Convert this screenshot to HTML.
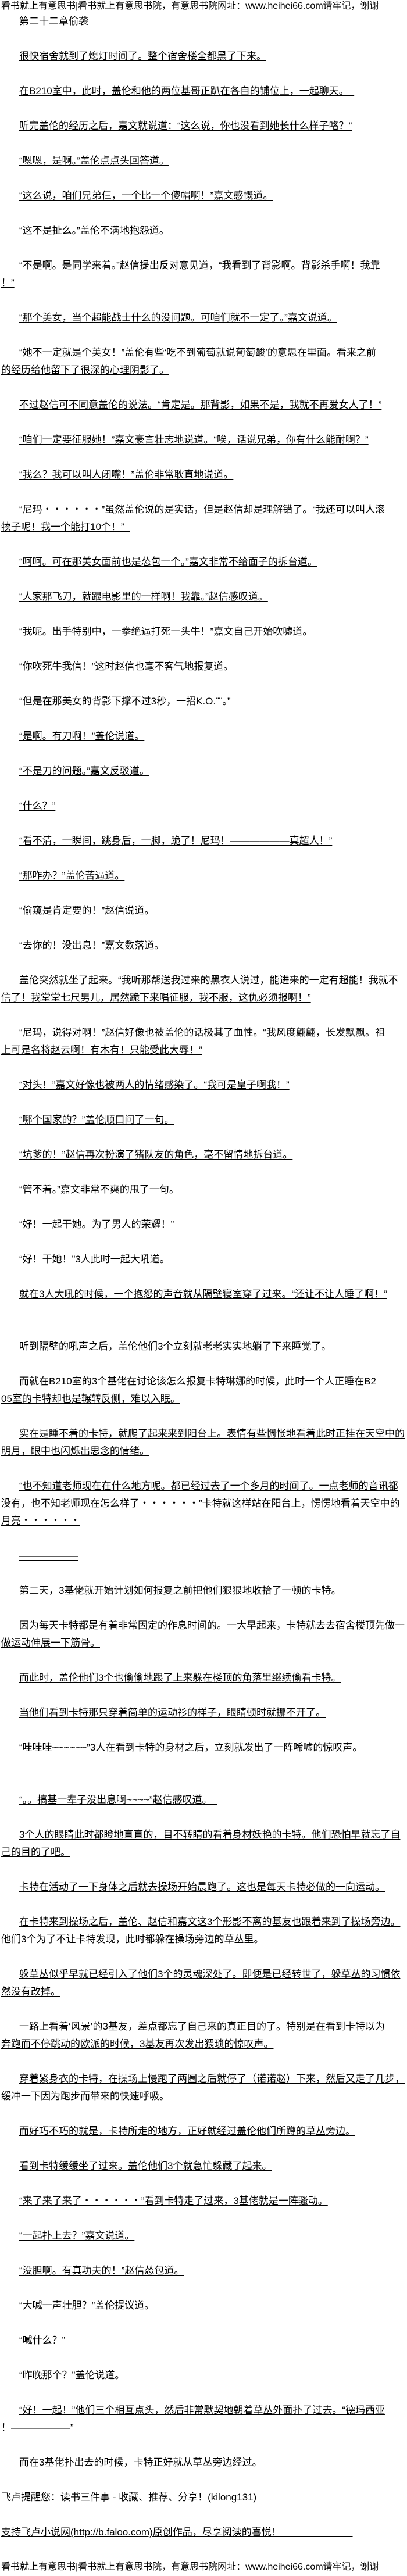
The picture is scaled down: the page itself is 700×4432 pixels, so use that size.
<!DOCTYPE html>
<html><head><meta charset="utf-8">
<style>
html,body{margin:0;padding:0;background:#fff;}
body{width:700px;height:4430px;overflow:hidden;position:relative;color:#000;
font-family:"Liberation Sans","Noto Sans CJK SC","WenQuanYi Zen Hei",sans-serif;}
.hd{position:absolute;left:2px;top:0;height:22px;line-height:22px;font-size:16px;white-space:pre;width:698px;overflow:hidden;}
.ft{position:relative;font-size:16px;white-space:pre;height:30px;line-height:30px;overflow:hidden;width:698px;padding-left:2px;}
#main{position:absolute;left:0;top:22px;width:700px;}
.p{font-size:17px;line-height:30px;white-space:pre;margin:0 0 30px 0;padding-left:2px;}
.p.dbl{margin-bottom:60px;}
.p u{text-decoration:underline;text-underline-offset:2px;}
.i{display:inline-block;width:31px;}
</style></head><body>
<div class="hd">看书就上有意思书|看书就上有意思书院，有意思书院网址：www.heihei66.com请牢记，谢谢</div>
<div id="main">
<div class="p"><span class="i"></span><u>第二十二章偷袭</u></div>
<div class="p"><span class="i"></span><u>很快宿舍就到了熄灯时间了。整个宿舍楼全都黑了下来。</u></div>
<div class="p"><span class="i"></span><u>在B210室中，此时，盖伦和他的两位基哥正趴在各自的铺位上，一起聊天。  </u></div>
<div class="p"><span class="i"></span><u>听完盖伦的经历之后，嘉文就说道：“这么说，你也没看到她长什么样子咯？”</u></div>
<div class="p"><span class="i"></span><u>“嗯嗯，是啊。”盖伦点点头回答道。</u></div>
<div class="p"><span class="i"></span><u>“这么说，咱们兄弟仨，一个比一个傻帽啊！”嘉文感慨道。</u></div>
<div class="p"><span class="i"></span><u>“这不是扯么。”盖伦不满地抱怨道。</u></div>
<div class="p"><span class="i"></span><u>“不是啊。是同学来着。”赵信提出反对意见道，“我看到了背影啊。背影杀手啊！我靠</u><br><u>！”</u></div>
<div class="p"><span class="i"></span><u>“那个美女，当个超能战士什么的没问题。可咱们就不一定了。”嘉文说道。</u></div>
<div class="p"><span class="i"></span><u>“她不一定就是个美女！”盖伦有些‘吃不到葡萄就说葡萄酸’的意思在里面。看来之前</u><br><u>的经历给他留下了很深的心理阴影了。</u></div>
<div class="p"><span class="i"></span><u>不过赵信可不同意盖伦的说法。“肯定是。那背影，如果不是，我就不再爱女人了！”</u></div>
<div class="p"><span class="i"></span><u>“咱们一定要征服她！”嘉文豪言壮志地说道。“唉，话说兄弟，你有什么能耐啊？”</u></div>
<div class="p"><span class="i"></span><u>“我么？我可以叫人闭嘴！”盖伦非常耿直地说道。</u></div>
<div class="p"><span class="i"></span><u>“尼玛・・・・・・”虽然盖伦说的是实话，但是赵信却是理解错了。“我还可以叫人滚</u><br><u>犊子呢！我一个能打10个！”  </u></div>
<div class="p"><span class="i"></span><u>“呵呵。可在那美女面前也是怂包一个。”嘉文非常不给面子的拆台道。</u></div>
<div class="p"><span class="i"></span><u>“人家那飞刀，就跟电影里的一样啊！我靠。”赵信感叹道。</u></div>
<div class="p"><span class="i"></span><u>“我呢。出手特别中，一拳绝逼打死一头牛！”嘉文自己开始吹嘘道。</u></div>
<div class="p"><span class="i"></span><u>“你吹死牛我信！”这时赵信也毫不客气地报复道。</u></div>
<div class="p"><span class="i"></span><u>“但是在那美女的背影下撑不过3秒，一招K.O.¨¨。”   </u></div>
<div class="p"><span class="i"></span><u>“是啊。有刀啊！”盖伦说道。</u></div>
<div class="p"><span class="i"></span><u>“不是刀的问题。”嘉文反驳道。</u></div>
<div class="p"><span class="i"></span><u>“什么？”</u></div>
<div class="p"><span class="i"></span><u>“看不清，一瞬间，跳身后，一脚，跪了！尼玛！——————真超人！”</u></div>
<div class="p"><span class="i"></span><u>“那咋办？”盖伦苦逼道。</u></div>
<div class="p"><span class="i"></span><u>“偷窥是肯定要的！”赵信说道。</u></div>
<div class="p"><span class="i"></span><u>“去你的！没出息！”嘉文数落道。</u></div>
<div class="p"><span class="i"></span><u>盖伦突然就坐了起来。“我听那帮送我过来的黑衣人说过，能进来的一定有超能！我就不</u><br><u>信了！我堂堂七尺男儿，居然跪下来唱征服，我不服，这仇必须报啊！”</u></div>
<div class="p"><span class="i"></span><u>“尼玛，说得对啊！”赵信好像也被盖伦的话极其了血性。“我风度翩翩，长发飘飘。祖</u><br><u>上可是名将赵云啊！有木有！只能受此大辱！”</u></div>
<div class="p"><span class="i"></span><u>“对头！”嘉文好像也被两人的情绪感染了。“我可是皇子啊我！”</u></div>
<div class="p"><span class="i"></span><u>“哪个国家的？”盖伦顺口问了一句。</u></div>
<div class="p"><span class="i"></span><u>“坑爹的！”赵信再次扮演了猪队友的角色，毫不留情地拆台道。</u></div>
<div class="p"><span class="i"></span><u>“管不着。”嘉文非常不爽的甩了一句。</u></div>
<div class="p"><span class="i"></span><u>“好！一起干她。为了男人的荣耀！”</u></div>
<div class="p"><span class="i"></span><u>“好！干她！”3人此时一起大吼道。</u></div>
<div class="p dbl"><span class="i"></span><u>就在3人大吼的时候，一个抱怨的声音就从隔壁寝室穿了过来。“还让不让人睡了啊！”</u></div>
<div class="p"><span class="i"></span><u>听到隔壁的吼声之后，盖伦他们3个立刻就老老实实地躺了下来睡觉了。</u></div>
<div class="p"><span class="i"></span><u>而就在B210室的3个基佬在讨论该怎么报复卡特琳娜的时候，此时一个人正睡在B2    </u><br><u>05室的卡特却也是辗转反侧，难以入眠。</u></div>
<div class="p"><span class="i"></span><u>实在是睡不着的卡特，就爬了起来来到阳台上。表情有些惆怅地看着此时正挂在天空中的</u><br><u>明月，眼中也闪烁出思念的情绪。</u></div>
<div class="p"><span class="i"></span><u>“也不知道老师现在在什么地方呢。都已经过去了一个多月的时间了。一点老师的音讯都</u><br><u>没有，也不知老师现在怎么样了・・・・・・”卡特就这样站在阳台上，愣愣地看着天空中的</u><br><u>月亮・・・・・・</u></div>
<div class="p"><span class="i"></span><u>——————</u></div>
<div class="p"><span class="i"></span><u>第二天，3基佬就开始计划如何报复之前把他们狠狠地收拾了一顿的卡特。</u></div>
<div class="p"><span class="i"></span><u>因为每天卡特都是有着非常固定的作息时间的。一大早起来，卡特就去去宿舍楼顶先做一</u><br><u>做运动伸展一下筋骨。</u></div>
<div class="p"><span class="i"></span><u>而此时，盖伦他们3个也偷偷地跟了上来躲在楼顶的角落里继续偷看卡特。</u></div>
<div class="p"><span class="i"></span><u>当他们看到卡特那只穿着简单的运动衫的样子，眼睛顿时就挪不开了。</u></div>
<div class="p dbl"><span class="i"></span><u>“哇哇哇~~~~~~”3人在看到卡特的身材之后，立刻就发出了一阵唏嘘的惊叹声。    </u></div>
<div class="p"><span class="i"></span><u>“。。搞基一辈子没出息啊~~~~”赵信感叹道。  </u></div>
<div class="p"><span class="i"></span><u>3个人的眼睛此时都瞪地直直的，目不转睛的看着身材妖艳的卡特。他们恐怕早就忘了自</u><br><u>己的目的了吧。</u></div>
<div class="p"><span class="i"></span><u>卡特在活动了一下身体之后就去操场开始晨跑了。这也是每天卡特必做的一向运动。</u></div>
<div class="p"><span class="i"></span><u>在卡特来到操场之后，盖伦、赵信和嘉文这3个形影不离的基友也跟着来到了操场旁边。</u><br><u>他们3个为了不让卡特发现，此时都躲在操场旁边的草丛里。</u></div>
<div class="p"><span class="i"></span><u>躲草丛似乎早就已经引入了他们3个的灵魂深处了。即便是已经转世了，躲草丛的习惯依</u><br><u>然没有改掉。</u></div>
<div class="p"><span class="i"></span><u>一路上看着‘风景’的3基友，差点都忘了自己来的真正目的了。特别是在看到卡特以为</u><br><u>奔跑而不停跳动的欧派的时候，3基友再次发出猥琐的惊叹声。</u></div>
<div class="p"><span class="i"></span><u>穿着紧身衣的卡特，在操场上慢跑了两圈之后就停了（诺诺赵）下来，然后又走了几步，</u><br><u>缓冲一下因为跑步而带来的快速呼吸。</u></div>
<div class="p"><span class="i"></span><u>而好巧不巧的就是，卡特所走的地方，正好就经过盖伦他们所蹲的草丛旁边。</u></div>
<div class="p"><span class="i"></span><u>看到卡特缓缓坐了过来。盖伦他们3个就急忙躲藏了起来。</u></div>
<div class="p"><span class="i"></span><u>“来了来了来了・・・・・・”看到卡特走了过来，3基佬就是一阵骚动。</u></div>
<div class="p"><span class="i"></span><u>“一起扑上去？”嘉文说道。</u></div>
<div class="p"><span class="i"></span><u>“没胆啊。有真功夫的！”赵信怂包道。</u></div>
<div class="p"><span class="i"></span><u>“大喊一声壮胆？”盖伦提议道。</u></div>
<div class="p"><span class="i"></span><u>“喊什么？”</u></div>
<div class="p"><span class="i"></span><u>“昨晚那个？”盖伦说道。</u></div>
<div class="p"><span class="i"></span><u>“好！一起！”他们三个相互点头，然后非常默契地朝着草丛外面扑了过去。“德玛西亚</u><br><u>！——————”</u></div>
<div class="p"><span class="i"></span><u>而在3基佬扑出去的时候，卡特正好就从草丛旁边经过。 </u></div>
<div class="p"><u>飞卢提醒您：读书三件事 - 收藏、推荐、分享！(kilong131)                </u></div>
<div class="p"><u>支持飞卢小说网(http://b.faloo.com)原创作品，尽享阅读的喜悦！                          </u></div>
<div class="ft">看书就上有意思书|看书就上有意思书院，有意思书院网址：www.heihei66.com请牢记，谢谢</div>
</div>
</body></html>
